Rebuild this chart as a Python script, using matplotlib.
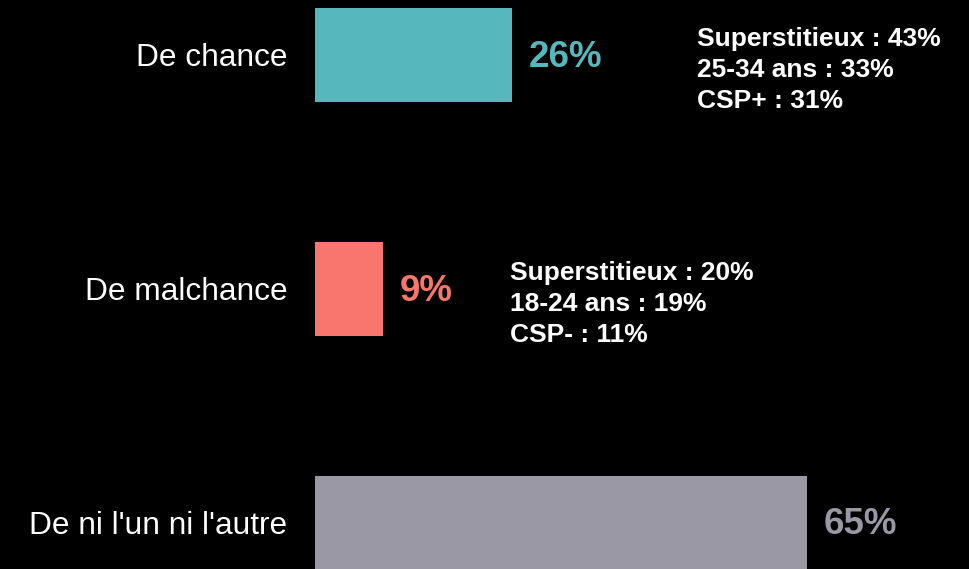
import matplotlib
matplotlib.use("Agg")
import matplotlib.pyplot as plt
from matplotlib import font_manager as fm

# Arial look-alike: pick Liberation Sans files directly (avoid the Narrow variant)
def lib_font(bold):
    want = "LiberationSans-Bold.ttf" if bold else "LiberationSans-Regular.ttf"
    for f in fm.findSystemFonts():
        if f.endswith(want):
            return fm.FontProperties(fname=f)
    return fm.FontProperties(family="DejaVu Sans", weight="bold" if bold else "normal")

REG, BOLD = lib_font(False), lib_font(True)

# data
categories = ["De chance", "De malchance", "De ni l'un ni l'autre"]
values = [26, 9, 65]
colors = ["#56B8BD", "#F8766D", "#9B98A5"]
notes = ["Superstitieux : 43%\n25-34 ans : 33%\nCSP+ : 31%",
         "Superstitieux : 20%\n18-24 ans : 19%\nCSP- : 11%",
         None]
note_x = [50.5, 25.8, None]   # where each note block starts (data units)

fig = plt.figure(figsize=(9.7, 5.69), dpi=100, facecolor="black")
ax = fig.add_axes([315 / 970, 0, 655 / 970, 1], facecolor="black")

ypos = list(range(len(categories)))
ax.barh(ypos, values, height=0.402, color=colors, zorder=2)
ax.set_xlim(0, 655 / 7.57)
ax.set_ylim(2.197, -0.235)

ax.set_yticks(ypos)
ax.set_yticklabels(categories, color="white", fontproperties=REG, fontsize=22.8)
ax.tick_params(axis="y", length=0, pad=20)
ax.set_xticks([])
for s in ax.spines.values():
    s.set_visible(False)

for y, v, c, n, nx in zip(ypos, values, colors, notes, note_x):
    ax.annotate(f"{v}%", (v, y), xytext=(12, -1.5), textcoords="offset points",
                ha="left", va="center", fontproperties=BOLD, fontsize=26.5, color=c)
    if n:
        ax.text(nx, y + 0.064, n, ha="left", va="center", fontproperties=BOLD,
                fontsize=19, color="white", linespacing=1.37)

fig.savefig("out.png", dpi=100, facecolor="black")
